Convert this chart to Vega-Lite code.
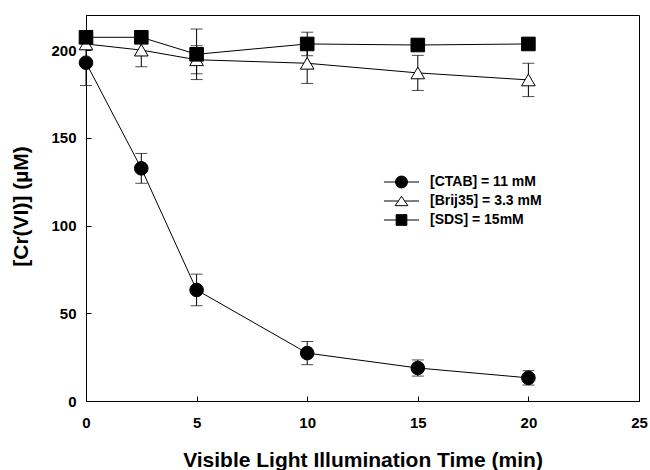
{
  "$schema": "https://vega.github.io/schema/vega-lite/v6.json",
  "width": 553,
  "height": 386,
  "autosize": "none",
  "padding": {"left": 86, "top": 15, "right": 11, "bottom": 69},
  "background": "white",
  "data": {
    "values": [
      {"series": "[CTAB] = 11 mM", "t": 0, "v": 192.8, "e": 13},
      {"series": "[CTAB] = 11 mM", "t": 2.5, "v": 132.6, "e": 8.5},
      {"series": "[CTAB] = 11 mM", "t": 5, "v": 63.3, "e": 9},
      {"series": "[CTAB] = 11 mM", "t": 10, "v": 27.3, "e": 6.6},
      {"series": "[CTAB] = 11 mM", "t": 15, "v": 18.8, "e": 4.6},
      {"series": "[CTAB] = 11 mM", "t": 20, "v": 13.2, "e": 4.1},
      {"series": "[Brij35] = 3.3 mM", "t": 0, "v": 203.5, "e": 3},
      {"series": "[Brij35] = 3.3 mM", "t": 2.5, "v": 200, "e": 9.5},
      {"series": "[Brij35] = 3.3 mM", "t": 5, "v": 194.5, "e": 8},
      {"series": "[Brij35] = 3.3 mM", "t": 10, "v": 192.5, "e": 11.5},
      {"series": "[Brij35] = 3.3 mM", "t": 15, "v": 187, "e": 10},
      {"series": "[Brij35] = 3.3 mM", "t": 20, "v": 183, "e": 9.5},
      {"series": "[SDS] = 15mM", "t": 0, "v": 207.3, "e": 2},
      {"series": "[SDS] = 15mM", "t": 2.5, "v": 207.3, "e": 2},
      {"series": "[SDS] = 15mM", "t": 5, "v": 197.6, "e": 14.4},
      {"series": "[SDS] = 15mM", "t": 10, "v": 203.5, "e": 6.7},
      {"series": "[SDS] = 15mM", "t": 15, "v": 202.9, "e": 2},
      {"series": "[SDS] = 15mM", "t": 20, "v": 203.5, "e": 2}
    ]
  },
  "encoding": {
    "x": {
      "field": "t", "type": "quantitative",
      "scale": {"domain": [0, 25], "nice": false, "zero": false},
      "axis": {
        "title": "Visible Light Illumination Time (min)",
        "values": [0, 5, 10, 15, 20, 25],
        "grid": false,
        "tickSize": -5,
        "labelPadding": 19,
        "labelFlush": false,
        "labelOverlap": false,
        "titleY": 65,
        "titleBaseline": "alphabetic"
      }
    },
    "y": {
      "field": "v", "type": "quantitative",
      "scale": {"domain": [0, 220], "nice": false, "zero": false},
      "axis": {
        "title": "[Cr(VI)] (µM)",
        "values": [0, 50, 100, 150, 200],
        "grid": false,
        "tickSize": -5,
        "labelPadding": 15,
        "labelFlush": false,
        "labelOverlap": false,
        "titleX": -59,
        "titleY": 191,
        "titleBaseline": "alphabetic"
      }
    }
  },
  "layer": [
    {
      "mark": {"type": "line", "color": "black", "strokeWidth": 1},
      "encoding": {"detail": {"field": "series", "type": "nominal"}}
    },
    {
      "mark": {"type": "errorbar", "ticks": {"color": "black", "strokeWidth": 1}, "rule": {"color": "black", "strokeWidth": 1}, "size": 12, "thickness": 1},
      "encoding": {
        "y": {"field": "v", "type": "quantitative"},
        "yError": {"field": "e"},
        "detail": {"field": "series", "type": "nominal"}
      }
    },
    {
      "mark": {"type": "point", "filled": true, "stroke": "black", "strokeWidth": 1, "opacity": 1, "size": 185},
      "encoding": {
        "shape": {
          "field": "series", "type": "nominal",
          "scale": {"domain": ["[SDS] = 15mM", "[CTAB] = 11 mM", "[Brij35] = 3.3 mM"], "range": ["square", "circle", "triangle-up"]},
          "legend": null
        },
        "fill": {
          "field": "series", "type": "nominal",
          "scale": {"domain": ["[CTAB] = 11 mM", "[Brij35] = 3.3 mM", "[SDS] = 15mM"], "range": ["black", "white", "black"]},
          "legend": {
            "title": null,
            "orient": "none",
            "legendX": 298,
            "legendY": 160,
            "padding": 0,
            "rowPadding": 4,
            "symbolSize": 169,
            "symbolStrokeWidth": 1,
            "symbolStrokeColor": "black",
            "symbolOffset": 10.5,
            "labelOffset": 21.5,
            "labelFontSize": 14,
            "labelFontWeight": "bold",
            "labelColor": "black",
            "symbolType": {"expr": "datum.value === '[CTAB] = 11 mM' ? 'M-2.7,0H2.7M0.92,0A0.92,0.92,0,1,1,-0.92,0A0.92,0.92,0,1,1,0.92,0Z' : datum.value === '[Brij35] = 3.3 mM' ? 'M0,-0.72L0.98,0.72L-0.98,0.72ZM-2.7,0H-0.49M0.49,0H2.7' : 'M-2.7,0H2.7M-0.82,-0.82H0.82V0.82H-0.82Z'"},
            "encode": {
              "symbols": {
                "stroke": {"value": "black"},
                "strokeWidth": {"value": 1},
                "size": {"value": 169},
                "opacity": {"value": 1}
              }
            }
          }
        }
      }
    }
  ],
  "config": {
    "font": "Liberation Sans",
    "view": {"stroke": "black", "strokeWidth": 1},
    "axis": {
      "domainColor": "black",
      "domainWidth": 1,
      "tickColor": "black",
      "tickWidth": 1,
      "labelFont": "Liberation Sans",
      "labelFontSize": 15,
      "labelFontWeight": "bold",
      "labelColor": "black",
      "titleFont": "Liberation Sans",
      "titleFontSize": 21,
      "titleFontWeight": "bold",
      "titleColor": "black"
    },
    "legend": {"labelFont": "Liberation Sans"}
  }
}
